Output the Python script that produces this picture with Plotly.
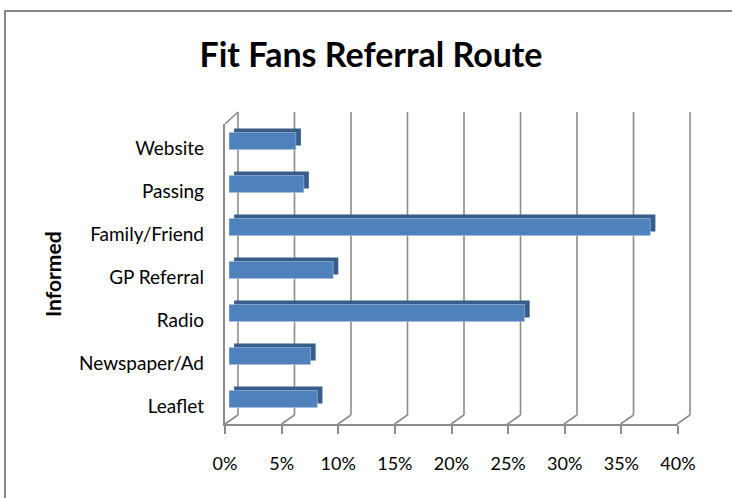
import plotly.graph_objects as go

# ---- data ----
categories = ["Leaflet", "Newspaper/Ad", "Radio", "GP Referral", "Family/Friend", "Passing", "Website"]
share_pct = [7.8, 7.2, 26.1, 9.2, 37.2, 6.6, 5.9]
tick_values = [0, 5, 10, 15, 20, 25, 30, 35, 40]
tick_labels = ["0%", "5%", "10%", "15%", "20%", "25%", "30%", "35%", "40%"]
title_text = "Fit Fans Referral Route"
axis_title = "Informed"

W, H = 732, 498
def px(x):
    return x / W
def py(y):
    return 1 - y / H

FONT = "Lato"
GRID = "#8c8c8c"
FRONT = "#4F81BD"
SHADE = "#385D8A"

bar_w = 0.395
top_depth = 0.093       # category units
side_depth = 0.45       # percent units
floor_dx = 13 / 11.3    # percent units (front-to-back shift)

# back-wall axis: 0% at x=238px, 40% at x=690px, padded range so edge lines are not clipped
back_px_per_unit = (690 - 238) / 40.0
back_range = [-2, 42]
back_domain = [px(238 + back_range[0] * back_px_per_unit), px(238 + back_range[1] * back_px_per_unit)]

fig = go.Figure()

# shadow (top/side faces)
fig.add_trace(go.Bar(
    y=categories, x=share_pct, base=side_depth, orientation="h",
    width=bar_w, offset=-bar_w / 2 + top_depth,
    marker=dict(color=SHADE, line=dict(width=0)),
    xaxis="x3", yaxis="y3", hoverinfo="skip", showlegend=False,
))
# front faces
fig.add_trace(go.Bar(
    y=categories, x=share_pct, orientation="h",
    width=bar_w, offset=-bar_w / 2,
    marker=dict(color=FRONT, line=dict(color="#a9c0de", width=0.6)),
    xaxis="x3", yaxis="y3", hoverinfo="skip", showlegend=False,
))

shapes = []
# outer chart border
shapes.append(dict(type="rect", xref="paper", yref="paper",
                   x0=px(5), y0=py(11), x1=1.05, y1=-0.05,
                   line=dict(color="#878787", width=2)))
# back wall gridlines
for t in tick_values:
    shapes.append(dict(type="line", xref="x", yref="paper", layer="below",
                       x0=t, x1=t, y0=py(415), y1=py(112),
                       line=dict(color=GRID, width=1.6)))
# floor diagonals (front tick -> back gridline)
for t in tick_values:
    shapes.append(dict(type="line", xref="x", yref="paper", layer="below",
                       x0=t - floor_dx, x1=t, y0=py(424), y1=py(415),
                       line=dict(color=GRID, width=1.6)))
# left wall top diagonal (on the front axis so that axis is drawn)
shapes.append(dict(type="line", xref="x2", yref="paper", layer="below",
                   x0=tick_values[0], x1=tick_values[0] + floor_dx, y0=py(124), y1=py(112),
                   line=dict(color=GRID, width=1.6)))

fig.update_layout(
    width=W, height=H, autosize=False,
    margin=dict(l=0, r=0, t=0, b=0, pad=0, autoexpand=False),
    paper_bgcolor="white", plot_bgcolor="rgba(0,0,0,0)",
    barmode="overlay", showlegend=False,
    font=dict(family=FONT, color="#000000"),
    title=dict(text="<b>" + title_text + "</b>", x=371 / W, xanchor="center",
               y=py(55), yanchor="middle", font=dict(size=34, family=FONT)),
    # back wall axis (gridlines drawn as shapes)
    xaxis=dict(domain=back_domain, range=back_range, anchor="y",
               showgrid=False, showticklabels=False, zeroline=False, showline=False, ticks=""),
    yaxis=dict(domain=[py(415), py(112)], range=[0, 1], anchor="x",
               showgrid=False, showticklabels=False, zeroline=False, showline=False),
    # front floor axis with labels
    xaxis2=dict(domain=[px(225), px(678)], range=[0, 40], anchor="y2",
                showgrid=False, zeroline=False, showline=True, linecolor=GRID, linewidth=1.6,
                ticks="outside", ticklen=8, tickwidth=1.6, tickcolor=GRID,
                tickvals=tick_values, ticktext=tick_labels,
                tickfont=dict(size=18, color="#000000"), ticklabelstandoff=15),
    yaxis2=dict(domain=[py(424), py(124)], range=[0, 1], anchor="x2",
                showgrid=False, zeroline=False, showline=True, linecolor=GRID, linewidth=1.6,
                showticklabels=False, ticks=""),
    # bar axes
    xaxis3=dict(domain=[px(229), px(682)], range=[0, 40], anchor="y3",
                showgrid=False, zeroline=False, showline=False, showticklabels=False, ticks=""),
    yaxis3=dict(domain=[py(420.5), py(119.5)], range=[-0.5, 6.5], anchor="x3",
                type="category", showgrid=False, zeroline=False, showline=False, ticks="",
                tickfont=dict(size=19, color="#000000"), ticklabelstandoff=24,
                ticklabelshift=7),
    shapes=shapes,
    annotations=[dict(text="<b>" + axis_title + "</b>", textangle=-90,
                      xref="paper", yref="paper", x=px(52), y=py(274),
                      xanchor="center", yanchor="middle", showarrow=False,
                      font=dict(size=21, family=FONT, color="#000000"))],
)

fig.write_html("out.html", config={"responsive": False, "displayModeBar": False},
               post_script="document.body.style.margin='0';document.body.style.overflow='hidden';")
